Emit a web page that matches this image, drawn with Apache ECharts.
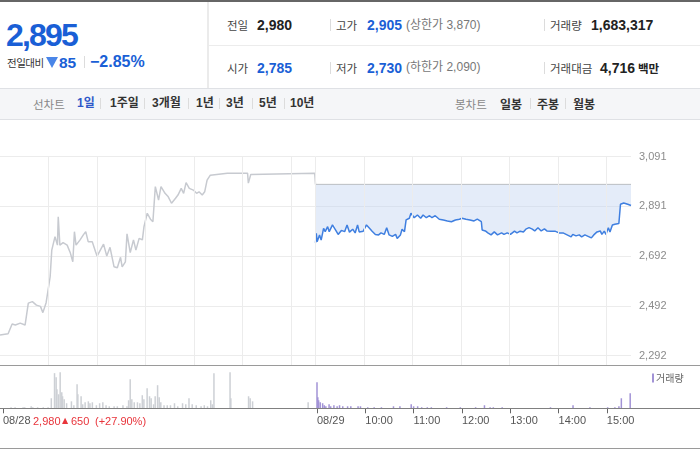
<!DOCTYPE html>
<html><head><meta charset="utf-8">
<script src="https://cdn.jsdelivr.net/npm/echarts@6/dist/echarts.min.js"></script>
<style>
html,body{margin:0;padding:0;background:#fff;width:700px;height:450px;overflow:hidden;}
#wrap{position:relative;width:700px;height:450px;font-family:"Liberation Sans","Noto Sans CJK KR",sans-serif;}
.t{position:absolute;white-space:nowrap;}
.b{position:absolute;}
#chart{position:absolute;left:0;top:120px;width:700px;height:330px;}
</style></head><body><div id="wrap"><div id="chart"></div></div>
<script>
// ---- data ----
// 08/28 intraday price: [minutes since 09:00, price]
const day1Prices = [[0,2375],[10,2380],[12,2385],[15,2419],[19,2415],[25,2423],[27,2420],[31,2415],[35,2503],[40,2509],[45,2495],[50,2490],[53,2465],[57,2505],[59,2509],[62,2609],[64,2716],[68,2770],[71,2736],[72,2850],[74,2736],[78,2746],[83,2736],[87,2704],[90,2669],[92,2790],[94,2736],[99,2757],[103,2777],[106,2790],[109,2750],[114,2750],[118,2710],[120,2692],[124,2716],[128,2740],[132,2692],[136,2727],[141,2649],[145,2645],[149,2687],[151,2649],[155,2669],[157,2781],[161,2706],[165,2757],[168,2716],[172,2763],[176,2757],[178,2810],[182,2864],[186,2840],[189,2830],[192,2971],[196,2917],[199,2971],[204,2944],[208,2930],[212,2904],[217,2924],[220,2937],[224,2964],[227,2944],[230,2987],[234,2964],[239,2957],[243,2944],[246,2950],[250,2937],[253,2950],[256,2997],[260,3017],[262,3025],[281,3025],[282,3020],[283,3025],[306,3025],[307,2985],[310,3020],[312,3025],[389,3025],[390,2980]];
// 08/29 intraday price: [minutes since 09:00, price]
const day2Prices = [[0,2745],[1,2783],[2,2750],[5,2777],[7,2756],[10,2803],[12,2790],[15,2810],[17,2790],[21,2817],[23,2820],[26,2790],[28,2779],[32,2795],[36,2790],[39,2817],[42,2788],[46,2800],[49,2785],[52,2817],[54,2789],[59,2792],[63,2817],[67,2803],[70,2792],[74,2779],[78,2777],[81,2785],[85,2779],[88,2806],[91,2777],[95,2771],[99,2779],[101,2763],[105,2777],[107,2800],[110,2790],[112,2837],[116,2844],[118,2864],[122,2846],[126,2857],[130,2844],[133,2857],[137,2846],[141,2854],[144,2846],[148,2854],[153,2840],[158,2837],[163,2833],[168,2830],[173,2837],[178,2840],[181,2844],[186,2840],[191,2837],[196,2833],[200,2840],[205,2830],[206,2797],[210,2793],[213,2785],[217,2777],[221,2789],[225,2777],[230,2785],[233,2779],[237,2785],[241,2779],[246,2792],[249,2785],[253,2792],[257,2789],[260,2800],[264,2806],[268,2800],[271,2793],[275,2806],[279,2793],[283,2801],[286,2793],[291,2792],[296,2792],[301,2785],[306,2785],[311,2777],[316,2769],[318,2779],[322,2773],[326,2777],[329,2769],[333,2777],[337,2771],[341,2765],[344,2777],[348,2789],[352,2793],[354,2779],[357,2792],[359,2779],[362,2806],[364,2789],[367,2817],[370,2820],[375,2823],[377,2900],[381,2905],[386,2900],[390,2895]];
// volume, thousand shares: [minutes since 09:00, volume]
const day1Volume = [[10,12],[15,12],[25,12],[27,12],[35,23],[37,12],[43,12],[50,12],[56,12],[60,115],[64,403],[66,357],[67,219],[69,161],[71,414],[73,184],[74,138],[76,104],[79,58],[85,80],[88,35],[92,276],[93,161],[97,138],[99,46],[102,69],[106,80],[108,58],[111,69],[116,35],[120,58],[124,69],[128,35],[132,23],[138,23],[142,23],[149,35],[154,23],[156,92],[158,334],[160,104],[163,69],[167,69],[170,58],[173,150],[175,104],[179,230],[182,138],[184,115],[187,46],[189,138],[192,265],[194,127],[196,69],[200,35],[204,35],[208,35],[213,58],[217,23],[223,58],[227,46],[231,115],[235,46],[240,35],[246,23],[250,35],[254,23],[258,92],[260,46],[262,403],[282,414],[283,115],[305,138],[307,115],[310,80],[379,69]];
const day2Volume = [[0,299],[1,127],[2,92],[4,69],[7,58],[9,35],[11,23],[15,46],[17,23],[21,35],[25,23],[28,35],[32,23],[38,23],[42,23],[51,23],[54,23],[63,12],[71,12],[80,12],[95,23],[103,23],[117,46],[120,23],[125,23],[130,12],[137,12],[142,12],[161,12],[178,12],[197,12],[208,35],[215,12],[219,12],[230,12],[290,12],[318,35],[339,12],[361,12],[370,12],[375,23],[378,115],[389,173]];
const prevClose = 2980;
const sessionMinutes = 390;
const yMin = 2292, yMax = 3091, yStep = 199.75;
const xTickMinutes = [0,390,450,510,570,630,690,750];
const xTickLabels = ['08/28','08/29','10:00','11:00','12:00','13:00','14:00','15:00'];
const gridMinutes = [60,120,180,240,300,360,390,450,510,570,630,690,750];
const volMax = 485;

// ---- header ----
const wrap = document.getElementById('wrap');
const BLUE = '#1a5fd6';
function box(x,y,w,h,bg,extra){const d=document.createElement('div');d.className='b';d.style.left=x+'px';d.style.top=y+'px';d.style.width=w+'px';d.style.height=h+'px';if(bg)d.style.background=bg;if(extra)Object.assign(d.style,extra);wrap.appendChild(d);return d;}
function txt(s,x,cy,size,o){o=o||{};const e=document.createElement('span');e.className='t';e.textContent=s;const h=Math.round(size*1.6);e.style.left=x+'px';e.style.top=(cy-h/2)+'px';e.style.height=h+'px';e.style.lineHeight=h+'px';e.style.fontSize=size+'px';e.style.fontWeight=o.w||400;e.style.color=o.c||'#333';if(o.ls)e.style.letterSpacing=o.ls+'px';if(o.kr)e.style.fontFamily='"Noto Sans CJK KR",sans-serif';wrap.appendChild(e);return e;}
function sep(x,cy,h){box(x,cy-h/2,1,h,'#dcdcdc');}

box(0,0,700,2,'#666');
box(207,2,2,86,'#ebebeb');
box(209,45,491,1,'#ececec');
box(0,88,700,30,'#f5f6f8',{borderTop:'1px solid #dfe1e5',borderBottom:'1px solid #dfe1e5'});

txt('2,895',6,35,32,{w:700,c:BLUE,ls:-1.8});
txt('전일대비',7,62,10.5,{c:'#333',ls:-0.5,kr:1});
box(46,57,0,0,null,{borderLeft:'6px solid transparent',borderRight:'6px solid transparent',borderTop:'11px solid #4a86e8'});
txt('85',59,62,15.5,{w:700,c:BLUE});
sep(84,62,12);
txt('\u22122.85%',90,62,16,{w:700,c:BLUE});

const r1=25, r2=67.5;
txt('전일',227,r1,11.5,{c:'#444',kr:1});
txt('2,980',257,r1,14,{w:700,c:'#222'});
sep(330,r1,12);
txt('고가',336,r1,11.5,{c:'#444',kr:1});
txt('2,905',367,r1,14,{w:700,c:BLUE});
txt('(상한가 3,870)',406,r1,12,{c:'#777'});
sep(544,r1,12);
txt('거래량',550,r1,11.5,{c:'#444',kr:1});
txt('1,683,317',591,r1,14,{w:700,c:'#222'});

txt('시가',227,r2,11.5,{c:'#444',kr:1});
txt('2,785',257,r2,14,{w:700,c:BLUE});
sep(330,r2,12);
txt('저가',336,r2,11.5,{c:'#444',kr:1});
txt('2,730',367,r2,14,{w:700,c:BLUE});
txt('(하한가 2,090)',406,r2,12,{c:'#777'});
sep(544,r2,12);
txt('거래대금',550,r2,11.5,{c:'#444',kr:1});
txt('4,716',600,r2,14,{w:700,c:'#222'});
txt('백만',638,r2,11.5,{w:700,c:'#222',kr:1});

const tb=103.5;
txt('선차트',33,tb,11.5,{c:'#888',kr:1});
txt('1일',77,tb,12,{w:700,c:'#2f58c9'});
sep(100,tb,11);
txt('1주일',110,tb,12,{w:700,c:'#333'});
sep(144,tb,11);
txt('3개월',152,tb,12,{w:700,c:'#333'});
sep(188,tb,11);
txt('1년',196,tb,12,{w:700,c:'#333'});
sep(219,tb,11);
txt('3년',226,tb,12,{w:700,c:'#333'});
sep(252,tb,11);
txt('5년',259,tb,12,{w:700,c:'#333'});
sep(284,tb,11);
txt('10년',290,tb,12,{w:700,c:'#333'});
txt('봉차트',455,tb,11.5,{c:'#888',kr:1});
txt('일봉',500,tb,12,{w:700,c:'#333',kr:1});
sep(530,tb,11);
txt('주봉',537,tb,12,{w:700,c:'#333',kr:1});
sep(565,tb,11);
txt('월봉',573,tb,12,{w:700,c:'#333',kr:1});

// ---- chart ----
const chart = echarts.init(document.getElementById('chart'));
const d2 = day2Prices.map(([t,p])=>[t+sessionMinutes,p]);
const vol = day1Volume.map(([t,v])=>[t,v]).concat(day2Volume.map(([t,v])=>[t+sessionMinutes,v]));
const refLine = [[sessionMinutes,prevClose],[2*sessionMinutes,prevClose]];
const PW = 631;
const RED = '#e8343b';
chart.setOption({
  animation:false,
  grid:[
    {left:0,top:36.7,width:PW,height:199},
    {left:0,top:246,width:PW,height:42.3},
    {left:0,top:36.7,width:PW,height:209.3}
  ],
  xAxis:[
    {gridIndex:0,type:'value',min:0,max:780,show:false},
    {gridIndex:1,type:'value',min:0,max:780,axisLine:{show:false},splitLine:{show:false},
     axisTick:{show:true,customValues:xTickMinutes,length:5,lineStyle:{color:'#666'}},
     axisLabel:{customValues:xTickMinutes,formatter:v=>xTickLabels[xTickMinutes.indexOf(v)]||'',align:'left',color:'#555',fontSize:11,margin:7,fontFamily:'Liberation Sans'}},
    {gridIndex:2,type:'value',min:0,max:780,show:false}
  ],
  yAxis:[
    {gridIndex:0,type:'value',position:'right',min:yMin,max:yMax,interval:yStep,
     axisLine:{show:false},axisTick:{show:false},splitLine:{lineStyle:{color:'#ececec'}},
     axisLabel:{color:'#8c8c8c',fontSize:11,margin:8,fontFamily:'Liberation Sans',formatter:v=>Math.round(v).toLocaleString('en-US')}},
    {gridIndex:1,type:'value',min:0,max:volMax,show:false},
    {gridIndex:2,type:'value',min:0,max:1,show:false}
  ],
  series:[
    {type:'line',xAxisIndex:2,yAxisIndex:2,data:[[0,0]],showSymbol:false,lineStyle:{opacity:0},z:0,silent:true,
     markLine:{silent:true,symbol:'none',animation:false,label:{show:false},lineStyle:{color:'#ececec',type:'solid',width:1},
       data:gridMinutes.map(m=>({xAxis:m}))}},
    {type:'custom',xAxisIndex:0,yAxisIndex:0,data:d2,z:1,silent:true,
     renderItem:(params,api)=>{
       if(params.dataIndex!==0) return null;
       const pts = d2.map(p=>api.coord(p));
       pts.push(api.coord([d2[d2.length-1][0],prevClose]));
       pts.push(api.coord([d2[0][0],prevClose]));
       return {type:'polygon',shape:{points:pts},style:{fill:'rgba(190,210,240,0.42)'}};
     }},
    {type:'line',xAxisIndex:0,yAxisIndex:0,data:refLine,showSymbol:false,lineStyle:{color:'#8a8a8a',width:1,type:'dotted'},z:2,silent:true},
    {type:'line',xAxisIndex:0,yAxisIndex:0,data:day1Prices,showSymbol:false,lineStyle:{color:'#c7cad0',width:1.5},z:3},
    {type:'line',xAxisIndex:0,yAxisIndex:0,data:d2,showSymbol:false,lineStyle:{color:'#3f7fe0',width:1.5},z:4},
    {type:'bar',xAxisIndex:1,yAxisIndex:1,data:vol,barWidth:1.5,
     itemStyle:{color:p=>p.value[0]>=sessionMinutes?'#a293d6':'#cdd0d5'}}
  ],
  graphic:[
    {type:'line',shape:{x1:0,y1:245.5,x2:700,y2:245.5},style:{stroke:'#9a9a9a',lineWidth:1},z:100},
    {type:'line',shape:{x1:0,y1:288.5,x2:700,y2:288.5},style:{stroke:'#808080',lineWidth:1},z:100},
    {type:'line',shape:{x1:0,y1:328.5,x2:700,y2:328.5},style:{stroke:'#9a9a9a',lineWidth:1},z:100},
    {type:'rect',shape:{x:652,y:253.5,width:2,height:9},style:{fill:'#a293d6'},z:100},
    {type:'text',x:656,y:258,style:{text:'거래량',fill:'#666',font:'10px "Noto Sans CJK KR"',verticalAlign:'middle'},z:100},
    {type:'text',x:33,y:302,style:{text:'2,980',fill:RED,font:'11px "Liberation Sans"',verticalAlign:'middle'},z:100},
    {type:'text',x:62,y:301,style:{text:'▲',fill:RED,font:'8px "DejaVu Sans"',verticalAlign:'middle'},z:100},
    {type:'text',x:71,y:302,style:{text:'650',fill:RED,font:'11px "Liberation Sans"',verticalAlign:'middle'},z:100},
    {type:'text',x:95,y:302,style:{text:'(+27.90%)',fill:RED,font:'11px "Liberation Sans"',verticalAlign:'middle'},z:100}
  ]
});
</script></body></html>
